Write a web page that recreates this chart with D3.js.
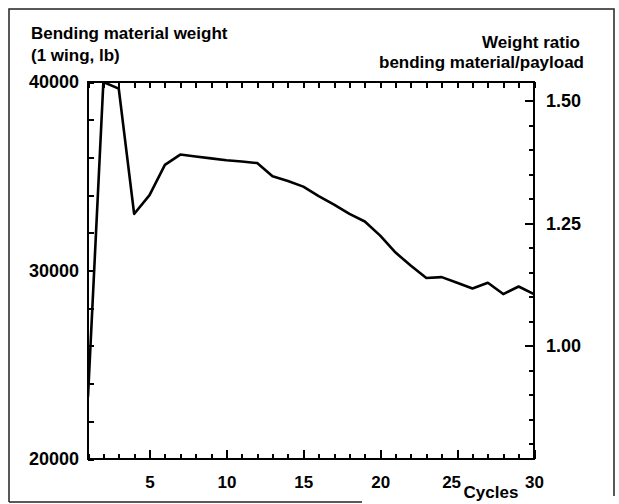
<!DOCTYPE html>
<html>
<head>
<meta charset="utf-8">
<script src="https://cdn.jsdelivr.net/npm/d3@7.9.0/dist/d3.min.js"></script>
<style>
  body { margin: 0; background: #fff; }
  svg { display: block; font-family: "Liberation Sans", Arial, Helvetica, sans-serif; font-weight: bold; }
  .domain { display: none; }
</style>
</head>
<body>
<div id="chart"></div>
<script>
// values
const cycles = [1, 2, 3, 4, 5, 6, 7, 8, 9, 10, 11, 12, 13, 14, 15,
                16, 17, 18, 19, 20, 21, 22, 23, 24, 25, 26, 27, 28, 29, 30];
const weights = [23300, 40000, 39650, 33000, 34000, 35600, 36150, 36050, 35950, 35850,
                 35780, 35700, 35000, 34750, 34450, 33950, 33500, 33000, 32600, 31850,
                 30950, 30250, 29600, 29650, 29350, 29050, 29350, 28750, 29150, 28750];

const xTicks = [5, 10, 15, 20, 25, 30];
const xMinor = cycles;
const leftTicks = [20000, 30000, 40000];
const leftMinor = [20000, 22000, 24000, 26000, 28000, 30000, 32000, 34000, 36000, 38000, 40000];
const rightTicks = [1.00, 1.25, 1.50];
const rightMinor = [0.80, 0.85, 0.90, 0.95, 1.00, 1.05, 1.10, 1.15, 1.20, 1.25, 1.30, 1.35, 1.40, 1.45, 1.50];
const payload = 26000;  // lb, so that ratio = weight / payload

const width = 619;
const height = 504;

const area = { left: 88, right: 534, top: 82, bottom: 459 };

const svg = d3.select("#chart")
  .append("svg")
  .attr("width", width)
  .attr("height", height);

svg.append("rect").attr("width", width).attr("height", height).attr("fill", "#fff");

// scanned page border
const border = svg.append("g").attr("stroke", "#222").attr("stroke-width", 1.5).attr("fill", "none");
border.append("path").attr("d", "M9,502 L9,9 L614,9 L614,496");
border.append("path").attr("d", "M9,502 L362,502");

const x = d3.scaleLinear().domain([1, 30]).range([area.left, area.right]);
const yL = d3.scaleLinear().domain([20000, 40000]).range([area.bottom, area.top]);
const yR = d3.scaleLinear().domain([20000 / payload, 40000 / payload]).range([area.bottom, area.top]);

// axes (all ticks point inward)
function styleAxis(g, size) {
  g.selectAll(".tick line")
    .attr("stroke", "#000")
    .attr("stroke-width", 2)
    .attr("shape-rendering", "crispEdges");
  g.selectAll(".tick text").attr("fill", "#000").style("font-size", size + "px");
}

svg.append("g")
  .attr("transform", `translate(0,${area.bottom})`)
  .call(d3.axisBottom(x).tickValues(xMinor).tickSize(-5).tickSizeOuter(0).tickFormat(""))
  .call(g => styleAxis(g, 17));

const xAxis = svg.append("g")
  .attr("transform", `translate(0,${area.bottom})`)
  .call(d3.axisBottom(x).tickValues(xTicks).tickSize(-9).tickSizeOuter(0).tickPadding(17))
  .call(g => styleAxis(g, 17));
xAxis.selectAll(".tick text").filter(d => d === 25).attr("dx", -6);

svg.append("g")
  .attr("transform", `translate(0,${area.top})`)
  .call(d3.axisTop(x).tickValues(xMinor).tickSize(-6).tickSizeOuter(0).tickFormat(""))
  .call(g => styleAxis(g, 17));

svg.append("g")
  .attr("transform", `translate(${area.left},0)`)
  .call(d3.axisLeft(yL).tickValues(leftMinor).tickSize(-6).tickSizeOuter(0).tickFormat(""))
  .call(g => styleAxis(g, 18));

svg.append("g")
  .attr("transform", `translate(${area.left},0)`)
  .call(d3.axisLeft(yL).tickValues(leftTicks).tickSize(0).tickSizeOuter(0).tickPadding(9).tickFormat(d3.format("d")))
  .call(g => styleAxis(g, 18));

svg.append("g")
  .attr("transform", `translate(${area.right},0)`)
  .call(d3.axisRight(yR).tickValues(rightMinor).tickSize(-5).tickSizeOuter(0).tickFormat(""))
  .call(g => styleAxis(g, 18));

svg.append("g")
  .attr("transform", `translate(${area.right},0)`)
  .call(d3.axisRight(yR).tickValues(rightTicks).tickSize(-9).tickSizeOuter(0).tickPadding(12).tickFormat(d3.format(".2f")))
  .call(g => styleAxis(g, 18));

// frame
svg.append("rect")
  .attr("x", area.left)
  .attr("y", area.top)
  .attr("width", area.right - area.left)
  .attr("height", area.bottom - area.top)
  .attr("fill", "none")
  .attr("stroke", "#000")
  .attr("stroke-width", 2);

svg.append("clipPath").attr("id", "plot-clip")
  .append("rect")
  .attr("x", area.left - 1)
  .attr("y", area.top - 1)
  .attr("width", area.right - area.left + 2)
  .attr("height", area.bottom - area.top + 2);

const line = d3.line()
  .x((d, i) => x(cycles[i]))
  .y(d => yL(d));

svg.append("path")
  .datum(weights)
  .attr("clip-path", "url(#plot-clip)")
  .attr("fill", "none")
  .attr("stroke", "#000")
  .attr("stroke-width", 2.6)
  .attr("stroke-linejoin", "round")
  .attr("d", line);

// titles
const titles = svg.append("g").style("font-size", "17px").attr("fill", "#000");
titles.append("text").attr("x", 31).attr("y", 39).text("Bending material weight");
titles.append("text").attr("x", 31).attr("y", 61).text("(1 wing, lb)");
titles.append("text").attr("x", 580).attr("y", 48).attr("text-anchor", "end").text("Weight ratio");
titles.append("text").attr("x", 584).attr("y", 68).attr("text-anchor", "end").text("bending material/payload");
titles.append("text").attr("x", 491).attr("y", 498).attr("text-anchor", "middle").text("Cycles");
</script>
</body>
</html>
